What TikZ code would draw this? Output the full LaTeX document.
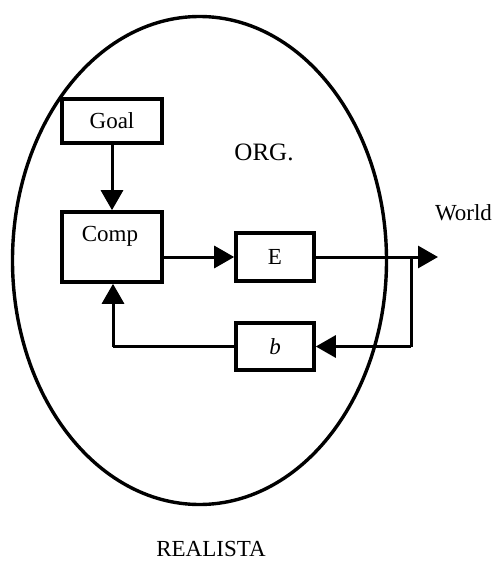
\documentclass[tikz,border=0pt]{standalone}
\usepackage{fontspec}
\setmainfont{Liberation Serif}
\usetikzlibrary{arrows.meta}
\begin{document}
\begin{tikzpicture}[x=1pt,y=-1pt,
  box/.style={draw,line width=3.6pt,inner sep=0pt},
  conn/.style={line width=3pt,-{Triangle[length=20pt,width=22pt]}},
  line/.style={line width=3pt},
  lbl/.style={font=\fontsize{23}{26}\selectfont}]
\useasboundingbox (0,0) rectangle (499,567);
\draw[line width=3.4pt] (199.5,260.5) ellipse [x radius=187, y radius=244];
\node[box,minimum width=100pt,minimum height=44pt,lbl] (goal) at (112,121) {Goal};
\node[box,minimum width=100pt,minimum height=70pt] (comp) at (112,247) {};
\node[lbl] (comptext) at (110,236) {Comp};
\node[box,minimum width=78pt,minimum height=48pt,lbl] (e) at (275,257) {E};
\node[box,minimum width=78pt,minimum height=47pt,lbl] (b) at (275,346.5) {\textit{b}};
\node[lbl,font=\fontsize{25}{28}\selectfont] (org) at (264,152) {ORG.};
\node[lbl] (world) at (463.5,213) {World};
\node[lbl] (real) at (211,549) {REALISTA};
\coordinate (wtip) at (438,257);
\coordinate (turn) at (411,257);
\coordinate (turn2) at (411,346.5);
\coordinate (turn3) at (113,346.5);
\draw[conn] (goal.south) -- (comp.north);
\draw[conn] (comp.east |- e.west) -- (e.west);
\draw[conn] (e.east) -- (wtip);
\draw[line] (turn) -- (turn2);
\draw[conn] (turn2) -- (b.east);
\draw[line] (b.west) -- (turn3);
\draw[conn] (turn3) -- (turn3 |- comp.south);
\end{tikzpicture}
\end{document}
